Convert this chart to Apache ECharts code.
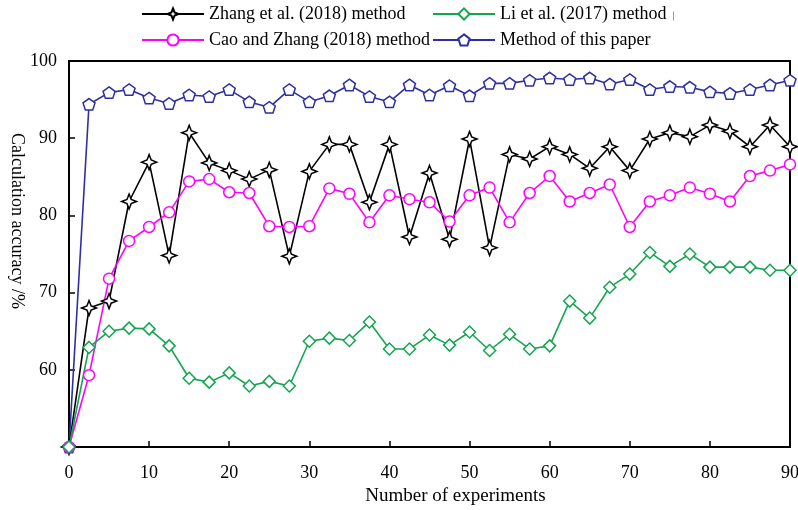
<!DOCTYPE html>
<html>
<head>
    <meta charset="utf-8">
    <title>Calculation accuracy</title>
    <script src="https://cdn.jsdelivr.net/npm/echarts@6/dist/echarts.min.js"></script>
    <style>
        html, body { margin: 0; padding: 0; background: #fff; }
        #chart1 { width: 798px; height: 510px; }
    </style>
</head>
<body>
<div id="chart1"></div>
<script type="text/javascript">
    // experiment number (x) and accuracy of each method (%)
    var experiments = [0, 2.5, 5, 7.5, 10, 12.5, 15, 17.5, 20, 22.5, 25, 27.5, 30, 32.5, 35, 37.5, 40, 42.5, 45,
        47.5, 50, 52.5, 55, 57.5, 60, 62.5, 65, 67.5, 70, 72.5, 75, 77.5, 80, 82.5, 85, 87.5, 90];
    var zhang = [50, 68.0, 68.9, 81.8, 86.9, 74.8, 90.7, 86.8, 85.8, 84.7, 85.9, 74.7, 85.7, 89.2, 89.2, 81.7, 89.2,
        77.2, 85.5, 76.9, 89.9, 75.8, 87.9, 87.3, 88.9, 87.9, 86.1, 88.9, 85.8, 89.9, 90.7, 90.2, 91.7, 90.9, 88.9, 91.7, 88.9];
    var cao = [50, 59.3, 71.8, 76.7, 78.5, 80.4, 84.4, 84.7, 83.0, 82.9, 78.6, 78.5, 78.6, 83.5, 82.8, 79.1, 82.6,
        82.1, 81.7, 79.2, 82.6, 83.6, 79.1, 82.9, 85.1, 81.8, 82.9, 84.0, 78.5, 81.8, 82.6, 83.6, 82.8, 81.8, 85.1, 85.8, 86.6];
    var li = [50, 62.9, 65.0, 65.4, 65.3, 63.1, 58.9, 58.4, 59.6, 57.9, 58.5, 57.9, 63.7, 64.1, 63.8, 66.2, 62.7,
        62.7, 64.5, 63.2, 64.9, 62.5, 64.6, 62.7, 63.1, 68.9, 66.7, 70.7, 72.4, 75.2, 73.4, 75.0, 73.3, 73.3, 73.3, 72.9, 72.9];
    var ours = [50, 94.4, 95.9, 96.3, 95.2, 94.5, 95.6, 95.4, 96.3, 94.7, 94.0, 96.3, 94.7, 95.5, 96.9, 95.4, 94.7,
        96.9, 95.6, 96.8, 95.5, 97.1, 97.1, 97.5, 97.8, 97.6, 97.8, 97.0, 97.6, 96.3, 96.7, 96.6, 96.0, 95.8, 96.3, 96.9, 97.5];

    var names = ['Zhang et al. (2018) method', 'Cao and Zhang (2018) method', 'Li et al. (2017) method', 'Method of this paper'];

    var font = 'Liberation Serif';
    var star = 'path://M0,-10 L2.8,-2.8 L10,0 L2.8,2.8 L0,10 L-2.8,2.8 L-10,0 L-2.8,-2.8 Z';
    var pentagon = 'path://M0,-10 L9.51,-3.09 L5.88,8.09 L-5.88,8.09 L-9.51,-3.09 Z';

    function pairs(ys) {
        return experiments.map(function (x, i) { return [x, ys[i]]; });
    }

    function line(name, ys, color, symbol, size) {
        return {
            name: name,
            type: 'line',
            data: pairs(ys),
            symbol: symbol,
            symbolSize: size,
            symbolKeepAspect: true,
            clip: false,
            lineStyle: { color: color, width: 1.6 },
            itemStyle: { color: '#fff', borderColor: color, borderWidth: 1.5 }
        };
    }

    var legendText = { fontFamily: font, fontSize: 18, color: '#000' };

    var myChart1 = echarts.init(document.getElementById('chart1'));
    myChart1.setOption({
        animation: false,
        textStyle: { fontFamily: font },
        legend: [{
            left: 141, top: 5, orient: 'vertical', padding: 0,
            itemWidth: 62, itemHeight: 14, itemGap: 8,
            textStyle: legendText,
            data: [names[0], names[1]]
        }, {
            left: 432, top: 5, orient: 'vertical', padding: 0,
            itemWidth: 62, itemHeight: 14, itemGap: 8,
            textStyle: legendText,
            data: [names[2], names[3]]
        }],
        graphic: [{
            type: 'line', left: 671, top: 9,
            shape: { x1: 0, y1: 0, x2: 0, y2: 9 },
            style: { stroke: '#999', lineWidth: 1 }
        }, {
            // y axis title, reads top to bottom as in the source figure
            type: 'text', x: 17, y: 221, rotation: -Math.PI / 2,
            style: {
                text: 'Calculation accuracy /%', fontFamily: font, fontSize: 18, fill: '#000',
                align: 'center', verticalAlign: 'middle'
            }
        }],
        grid: {
            left: 69, right: 8, top: 61, bottom: 63, outerBoundsMode: 'none',
            show: true, borderColor: '#000', borderWidth: 2
        },
        xAxis: {
            type: 'value', min: 0, max: 90, interval: 10,
            name: 'Number of experiments', nameLocation: 'middle', nameGap: 40,
            nameTextStyle: { fontFamily: font, fontSize: 19, color: '#000', padding: [0, 0, 0, 52] },
            axisLine: { lineStyle: { color: '#000', width: 2 } },
            axisTick: { inside: true, length: 6, lineStyle: { color: '#000', width: 1.5 } },
            axisLabel: { fontFamily: font, fontSize: 18, color: '#000', margin: 17 },
            splitLine: { show: false }
        },
        yAxis: {
            type: 'value', min: 50, max: 100, interval: 10,
            axisLine: { lineStyle: { color: '#000', width: 2 } },
            axisTick: { inside: true, length: 6, lineStyle: { color: '#000', width: 1.5 } },
            axisLabel: {
                fontFamily: font, fontSize: 18, color: '#000', margin: 12,
                formatter: function (v) { return v === 50 ? '' : v; }
            },
            splitLine: { show: false }
        },
        series: [
            line(names[3], ours, '#2e2ea6', pentagon, 12),
            line(names[0], zhang, '#000000', star, 15),
            line(names[1], cao, '#ff00ff', 'circle', 11),
            line(names[2], li, '#12a650', 'diamond', 12)
        ]
    });
</script>
</body>
</html>
